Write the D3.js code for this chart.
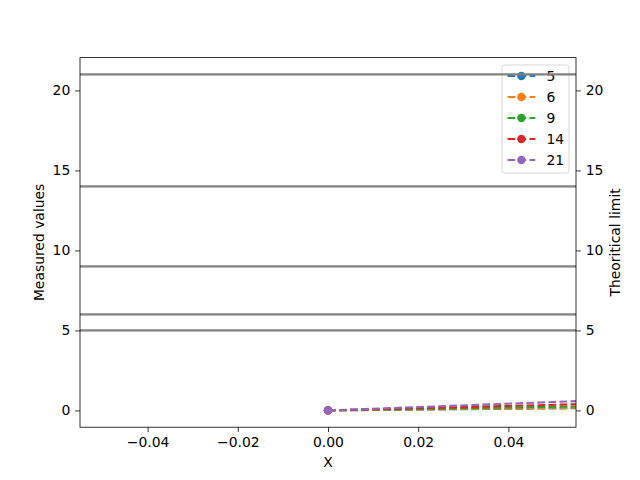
<!DOCTYPE html>
<html>
<head>
<meta charset="utf-8">
<script src="https://cdn.jsdelivr.net/npm/d3@7"></script>
<style>
body { margin: 0; background: #fff; }
svg text { font-family: "DejaVu Sans", sans-serif; }
</style>
</head>
<body>
<svg id="chart" width="640" height="480"></svg>
<script>
// Data
const seriesNames = ["5", "6", "9", "14", "21"];
const xValues = [0, 1];
const seriesValues = [
  [0, 2.5],
  [0, 3],
  [0, 4.5],
  [0, 7],
  [0, 10.5]
];
const limits = [5, 6, 9, 14, 21];
const colors = ["#1f77b4", "#ff7f0e", "#2ca02c", "#d62728", "#9467bd"];
const xTicks = [-0.04, -0.02, 0, 0.02, 0.04];
const yTicks = [0, 5, 10, 15, 20];

const svg = d3.select("#chart");
const L = 80, R = 576, T = 57.6, B = 427.2;
const x = d3.scaleLinear().domain([-0.055, 0.055]).range([L, R]);
const y = d3.scaleLinear().domain([-1.05, 22.05]).range([B, T]);

svg.append("rect").attr("width", 640).attr("height", 480).attr("fill", "#fff");

svg.append("defs").append("clipPath").attr("id", "clip")
  .append("rect").attr("x", L).attr("y", T).attr("width", R - L).attr("height", B - T);

const plot = svg.append("g").attr("clip-path", "url(#clip)");

const line = d3.line().x((d, i) => x(xValues[i])).y(d => y(d));
seriesValues.forEach((vals, k) => {
  plot.append("path").datum(vals).attr("d", line)
    .attr("fill", "none").attr("stroke", colors[k]).attr("stroke-width", 2.08)
    .attr("stroke-dasharray", "7.7,3.33");
  plot.selectAll(null).data(vals).enter().append("circle")
    .attr("cx", (d, i) => x(xValues[i])).attr("cy", d => y(d)).attr("r", 4.2)
    .attr("fill", colors[k]);
});

// Legend (on first axes)
const lg = svg.append("g");
const lgX = 502, lgY = 65, lgW = 67, lgH = 108;
lg.append("rect").attr("x", lgX).attr("y", lgY).attr("width", lgW).attr("height", lgH)
  .attr("rx", 2.8).attr("fill", "#fff").attr("fill-opacity", 0.8)
  .attr("stroke", "#cccccc").attr("stroke-opacity", 0.8).attr("stroke-width", 1);
seriesNames.forEach((name, k) => {
  const cy = 76 + k * 21;
  lg.append("line").attr("x1", 507.5).attr("x2", 535.3).attr("y1", cy).attr("y2", cy)
    .attr("stroke", colors[k]).attr("stroke-width", 2.08).attr("stroke-dasharray", "7.7,3.33")
    .attr("stroke-dashoffset", 0);
  lg.append("circle").attr("cx", 521.4).attr("cy", cy).attr("r", 4.2).attr("fill", colors[k]);
  lg.append("text").attr("x", 546.5).attr("y", cy).attr("dy", "0.36em")
    .attr("font-size", 13.9).attr("fill", "#000").text(name);
});

// Horizontal limit lines (twin axes, drawn on top)
const plot2 = svg.append("g").attr("clip-path", "url(#clip)");
plot2.selectAll(null).data(limits).enter().append("line")
  .attr("x1", L).attr("x2", R).attr("y1", d => y(d)).attr("y2", d => y(d))
  .attr("stroke", "#808080").attr("stroke-width", 2.08);

// Axes
function styleAxis(g) {
  g.selectAll("path").remove();
  g.selectAll("line").attr("stroke", "#000").attr("stroke-width", 0.8);
  g.selectAll("text").attr("font-size", 13.9).attr("fill", "#000")
    .attr("font-family", "DejaVu Sans, sans-serif");
}
const fmtX = d => d3.format(".2f")(d).replace("-", "\u2212");
svg.append("g").attr("transform", `translate(0,${B})`)
  .call(d3.axisBottom(x).tickValues(xTicks).tickFormat(fmtX).tickSize(4.86).tickPadding(4.86))
  .call(styleAxis);
svg.append("g").attr("transform", `translate(${L},0)`)
  .call(d3.axisLeft(y).tickValues(yTicks).tickFormat(d3.format("d")).tickSize(4.86).tickPadding(4.86))
  .call(styleAxis);
svg.append("g").attr("transform", `translate(${R},0)`)
  .call(d3.axisRight(y).tickValues(yTicks).tickFormat(d3.format("d")).tickSize(4.86).tickPadding(4.86))
  .call(styleAxis);

svg.append("rect").attr("x", L).attr("y", T).attr("width", R - L).attr("height", B - T)
  .attr("fill", "none").attr("stroke", "#000").attr("stroke-width", 0.8);

// Labels
svg.append("text").attr("x", (L + R) / 2).attr("y", 467).attr("text-anchor", "middle")
  .attr("font-size", 13.9).text("X");
svg.append("text").attr("transform", `translate(44,${(T + B) / 2}) rotate(-90)`)
  .attr("text-anchor", "middle").attr("font-size", 13.9).text("Measured values");
svg.append("text").attr("transform", `translate(620,${(T + B) / 2}) rotate(-90)`)
  .attr("text-anchor", "middle").attr("font-size", 13.9).text("Theoritical limit");
</script>
</body>
</html>
